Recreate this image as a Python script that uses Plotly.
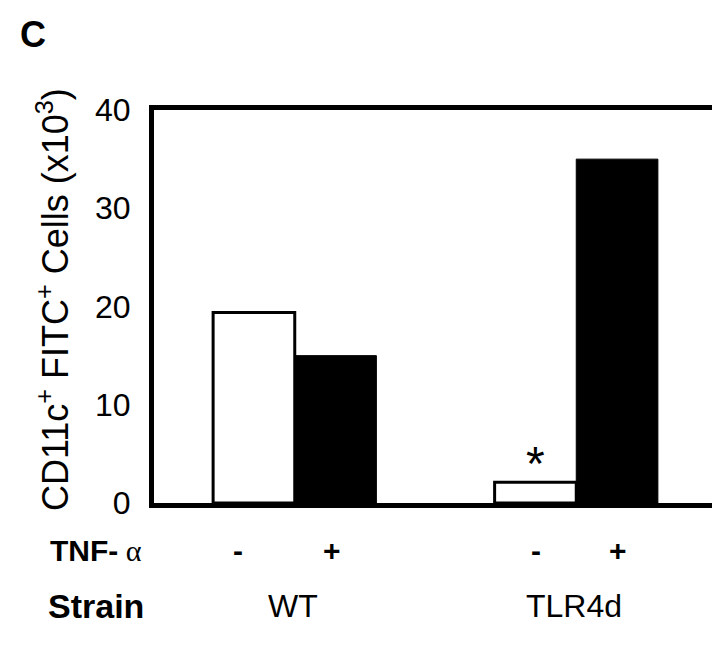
import plotly.graph_objects as go

strains = ["WT", "TLR4d"]
tnf_minus = [19.4, 2.1]
tnf_plus = [15.0, 35.0]
y_ticks = [0, 10, 20, 30, 40]
treat_labels = ["-", "+"]
y_title = "CD11c<sup>+</sup> FITC<sup>+</sup> Cells (x10<sup>3</sup>)"

W, H = 720, 652
L, R, T, B = 146, 11, 102, 157
pw = W - L - R
ph = H - T - B
FONT = "Liberation Sans, Arial, Helvetica, sans-serif"

fig = go.Figure()
fig.add_trace(go.Bar(x=strains, y=tnf_minus, name="TNF-α -",
                     marker=dict(color="white", line=dict(color="black", width=3))))
fig.add_trace(go.Bar(x=strains, y=tnf_plus, name="TNF-α +",
                     marker=dict(color="black", line=dict(color="black", width=1))))

def px_x(x):
    return (x - L) / pw

def px_y(y):
    return (H - B - y) / ph

# horizontal offsets (px) of the "-" / "+" labels from each strain's centre
sign_shift = {"WT": (-57, 37), "TLR4d": (-40, 42)}

annots = []
annots.append(dict(x=1, y=tnf_minus[1], xref="x", yref="y", text="*", showarrow=False,
                   yanchor="bottom", xshift=-41, yshift=-10,
                   font=dict(size=48, family=FONT, color="black")))
annots.append(dict(x=px_x(45), y=px_y(292), xref="paper", yref="paper", text=y_title,
                   textangle=-90, showarrow=False, xanchor="center", yanchor="middle",
                   font=dict(size=36, family=FONT, color="black")))
annots.append(dict(x=px_x(10), y=px_y(26), xref="paper", yref="paper", text="<b>C</b>",
                   showarrow=False, xanchor="left", yanchor="middle",
                   font=dict(size=36, family=FONT, color="black")))
annots.append(dict(x=px_x(40), y=px_y(542), xref="paper", yref="paper",
                   text="<b>TNF-</b><span style='font-family:Liberation Serif, serif'> α</span>",
                   showarrow=False, xanchor="left", yanchor="middle",
                   font=dict(size=30, family=FONT, color="black")))
for gi, s in enumerate(strains):
    for ti, lab in enumerate(treat_labels):
        annots.append(dict(x=s, y=px_y(542), xref="x", yref="paper", text="<b>%s</b>" % lab,
                           showarrow=False, xanchor="center", yanchor="middle",
                           xshift=sign_shift[s][ti],
                           font=dict(size=30, family=FONT, color="black")))
    annots.append(dict(x=s, y=px_y(598), xref="x", yref="paper", text=s,
                       showarrow=False, xanchor="center", yanchor="middle", xshift=-2,
                       font=dict(size=32, family=FONT, color="black")))
annots.append(dict(x=px_x(38), y=px_y(598), xref="paper", yref="paper", text="<b>Strain</b>",
                   showarrow=False, xanchor="left", yanchor="middle",
                   font=dict(size=34, family=FONT, color="black")))

fig.update_layout(
    width=W, height=H,
    margin=dict(l=L, r=R, t=T, b=B, autoexpand=False),
    paper_bgcolor="white", plot_bgcolor="white",
    barmode="group", bargap=0.42, bargroupgap=0,
    showlegend=False,
    annotations=annots,
    xaxis=dict(range=[-0.5, 1.5], showticklabels=False, ticks="", showgrid=False,
               showline=True, linecolor="black", linewidth=5, mirror=True, zeroline=False),
    yaxis=dict(range=[0, 40], tickvals=y_ticks, ticks="", showgrid=False, zeroline=False,
               showline=True, linecolor="black", linewidth=5, mirror=True,
               ticklabelstandoff=12,
               tickfont=dict(size=32, family=FONT, color="black")),
)

fig.write_html("out.html")
